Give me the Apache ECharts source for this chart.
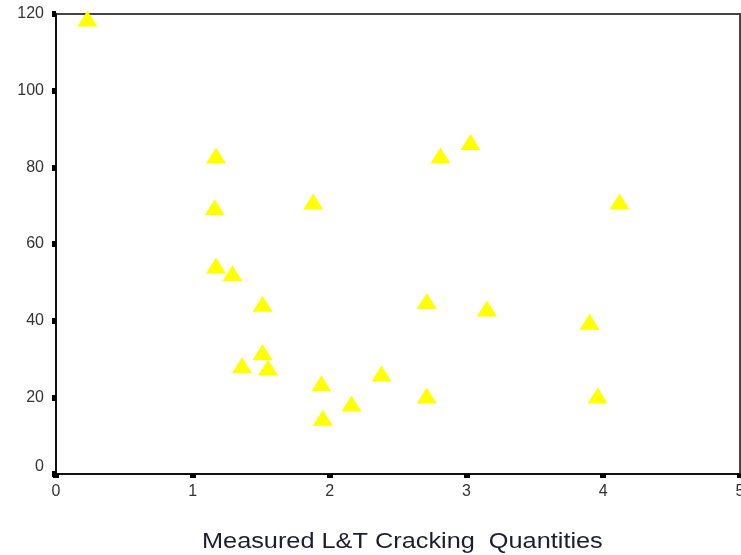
<!DOCTYPE html>
<html>
<head>
<meta charset="utf-8">
<script src="https://cdn.jsdelivr.net/npm/echarts@6/dist/echarts.min.js"></script>
<style>html,body{margin:0;padding:0;background:#fff;}#c{width:741px;height:555px;}</style>
</head>
<body>
<div id="c"></div>
<script>
const xValues = [0.23, 1.17, 1.16, 1.88, 1.17, 1.29, 1.51, 1.51, 1.36, 1.55, 1.94, 2.16, 1.95, 2.38, 2.81, 3.03, 4.12, 2.71, 3.15, 3.90, 2.71, 3.96];
const yValues = [118.8, 83.1, 69.6, 71.1, 54.4, 52.4, 44.4, 31.8, 28.4, 27.8, 23.7, 18.4, 14.7, 26.2, 83.1, 86.6, 71.1, 45.1, 43.2, 39.7, 20.5, 20.5];
const xTicks = [0, 1, 2, 3, 4, 5];
const yTicks = [0, 20, 40, 60, 80, 100, 120];
const xTitle = 'Measured L&T Cracking  Quantities';

const points = xValues.map((x, i) => [x, yValues[i]]);
const font = 'Arial, "Liberation Sans", sans-serif';

const chart = echarts.init(document.getElementById('c'), null, {renderer: 'canvas'});
chart.setOption({
  animation: false,
  backgroundColor: '#ffffff',
  grid: {left: 56, right: 1, top: 14, bottom: 81, show: true, borderColor: '#444', borderWidth: 2,
    containLabel: false, outerBoundsMode: 'none'},
  graphic: [{
    type: 'text', left: 202, top: 531, scaleX: 1.15, silent: true,
    style: {text: xTitle, font: '22px ' + font, fill: '#1c1c34'}
  }],
  xAxis: {
    type: 'value', min: xTicks[0], max: xTicks[xTicks.length - 1], interval: 1,
    axisLine: {show: true, onZero: false, lineStyle: {color: '#111', width: 2}},
    axisTick: {show: true, inside: false, length: 4, lineStyle: {color: '#000', width: 6}},
    axisLabel: {fontFamily: font, fontSize: 16, color: '#333', margin: 10,
      formatter: v => xTicks.includes(v) ? String(v) : ''},
    splitLine: {show: false}
  },
  yAxis: {
    type: 'value', min: yTicks[0], max: yTicks[yTicks.length - 1], interval: 20,
    axisLine: {show: true, onZero: false, lineStyle: {color: '#111', width: 2}},
    axisTick: {show: true, inside: false, length: 4, lineStyle: {color: '#000', width: 6}},
    axisLabel: {fontFamily: font, fontSize: 16, color: '#333', margin: 12,
      formatter: v => !yTicks.includes(v) ? '' : (v === 0 ? '{z|0}' : String(v)),
      rich: {z: {fontFamily: font, fontSize: 16, color: '#333', padding: [0, 0, 15, 0]}}},
    splitLine: {show: false}
  },
  series: [{
    type: 'scatter',
    data: points,
    symbol: 'triangle',
    symbolSize: [20, 16],
    itemStyle: {color: '#ffff00', opacity: 1},
    emphasis: {disabled: true}
  }]
});
</script>
</body>
</html>
